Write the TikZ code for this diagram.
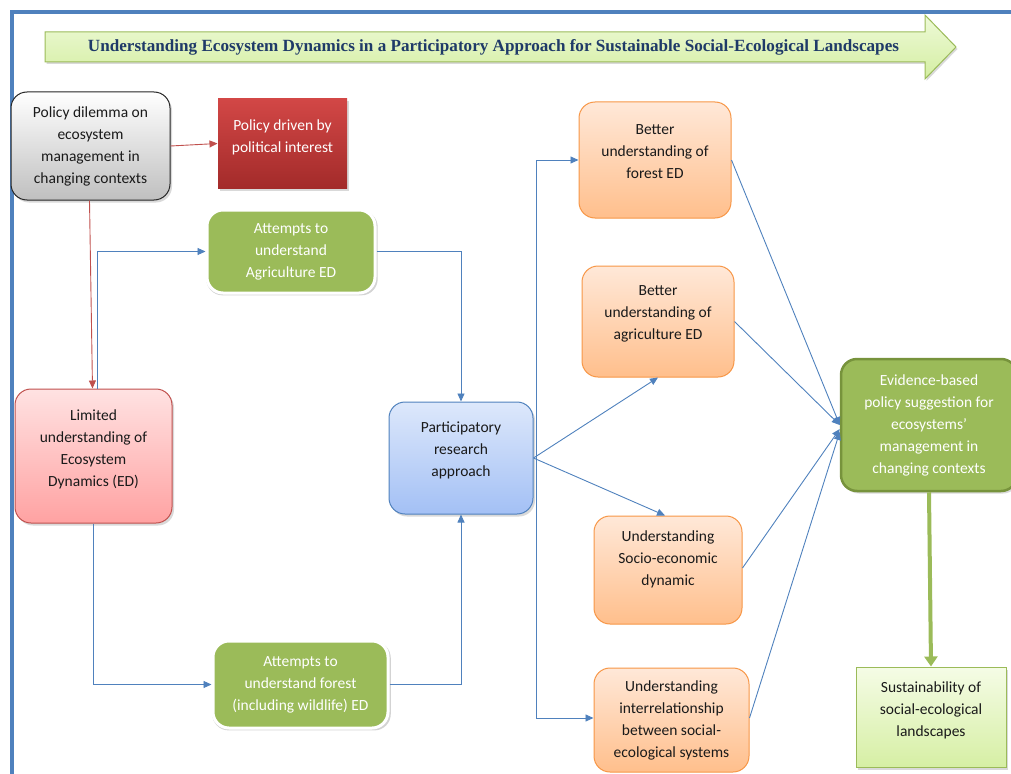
\documentclass[tikz,border=0pt]{standalone}
\usepackage{fontspec}
\setmainfont{Carlito}
\newfontfamily\titlefont{Liberation Serif}
\usetikzlibrary{arrows.meta,shadows}
\definecolor{bline}{HTML}{4F81BD}
\definecolor{rline}{HTML}{C0504D}
\definecolor{gfill}{HTML}{9BBB59}
\definecolor{gdark}{HTML}{77933C}
\definecolor{oline}{HTML}{F79646}
\definecolor{titleblue}{HTML}{1F3A68}
\definecolor{txt}{HTML}{1A1A1A}
\definecolor{redtop}{HTML}{D24746}
\definecolor{redbot}{HTML}{A32B2A}
\definecolor{pinktop}{HTML}{FFE2E2}
\definecolor{pinkbot}{HTML}{FFA2A2}
\definecolor{bluetop}{HTML}{DDE8FB}
\definecolor{bluebot}{HTML}{A3C0F5}
\definecolor{orgtop}{HTML}{FFE8D8}
\definecolor{orgbot}{HTML}{FFBF8C}
\definecolor{sustop}{HTML}{F5FCE6}
\definecolor{susbot}{HTML}{D6EFA4}
\definecolor{ttltop}{HTML}{EEFAD8}
\definecolor{ttlbot}{HTML}{D4EEA2}
\tikzset{
  box/.style={rounded corners=16pt, align=center, font=\fontsize{15.5}{22}\selectfont, text=txt, inner sep=2pt, line width=1pt},
  shad/.style={drop shadow={shadow xshift=2pt, shadow yshift=-2.5pt, opacity=0.3}},
  greybox/.style={box, draw=black!85, top color=white, bottom color=black!25, shad},
  redbox/.style={box, rounded corners=0pt, draw=none, top color=redtop, bottom color=redbot, text=white, shad},
  attbox/.style={box, draw=white, line width=3pt, fill=gfill, text=white, drop shadow={shadow xshift=1pt, shadow yshift=-1.5pt, opacity=0.35, shadow scale=1.02}},
  pinkbox/.style={box, draw=rline, top color=pinktop, bottom color=pinkbot, shad},
  bluebox/.style={box, draw=bline, top color=bluetop, bottom color=bluebot, shad},
  orangebox/.style={box, draw=oline, top color=orgtop, bottom color=orgbot},
  evbox/.style={box, draw=gdark, line width=2.5pt, fill=gfill, text=white, shad},
  susbox/.style={box, rounded corners=0pt, draw=gfill, top color=sustop, bottom color=susbot, shad},
  barrow/.style={draw=bline, line width=0.9pt, -{Triangle[length=8pt,width=7pt]}},
  rarrow/.style={draw=rline, line width=0.9pt, -{Triangle[length=8pt,width=7pt]}},
  garrow/.style={draw=gfill, line width=4pt, -{Triangle[length=10pt,width=13pt]}},
}
\begin{document}
\begin{tikzpicture}[x=1pt,y=-1pt]
\useasboundingbox (0,0) rectangle (1011,773);
% frame
\draw[bline, line width=4pt] (12,780) -- (12,12) -- (1020,12);
% title arrow
\path[draw=gfill, line width=1pt, top color=ttltop, bottom color=ttlbot,
  drop shadow={shadow xshift=1.5pt, shadow yshift=-2pt, opacity=0.3}]
  (45,32) -- (925,32) -- (925,15) -- (956,47) -- (925,79) -- (925,62) -- (45,62) -- cycle;
\node[font=\titlefont\bfseries\fontsize{17.1}{20}\selectfont, text=titleblue] (title) at (493.5,47)
  {Understanding Ecosystem Dynamics in a Participatory Approach for Sustainable Social-Ecological Landscapes};
% nodes
\node[greybox, minimum width=159pt, minimum height=108pt] (dilemma) at (90.5,146)
  {Policy dilemma on\\ecosystem\\management in\\changing contexts};
\node[redbox, minimum width=129pt, minimum height=89pt] (driven) at (282.5,143.5)
  {Policy driven by\\political interest\\[-7pt]};
\node[attbox, minimum width=168pt, minimum height=83pt] (agri) at (291,251.5)
  {Attempts to\\understand\\Agriculture ED};
\node[pinkbox, minimum width=157pt, minimum height=134pt] (limited) at (93.5,456)
  {Limited\\understanding of\\Ecosystem\\Dynamics (ED)\\[-6pt]};
\node[bluebox, minimum width=144pt, minimum height=112pt] (particip) at (461,458)
  {Participatory\\research\\approach\\[-4pt]};
\node[attbox, minimum width=175pt, minimum height=87pt] (forestA) at (300.5,684.5)
  {Attempts to\\understand forest\\(including wildlife) ED};
\node[orangebox, minimum width=152pt, minimum height=116pt] (bforest) at (655,160)
  {Better\\understanding of\\forest ED\\[-6pt]};
\node[orangebox, minimum width=152pt, minimum height=111pt] (bagri) at (658,321.5)
  {Better\\understanding of\\agriculture ED\\[-5pt]};
\node[orangebox, minimum width=148pt, minimum height=108pt] (socio) at (668,570)
  {Understanding\\Socio-economic\\dynamic\\[1pt]};
\node[orangebox, minimum width=155pt, minimum height=104pt] (interrel) at (671.5,720)
  {Understanding\\interrelationship\\between social-\\ecological systems};
\node[evbox, minimum width=176pt, minimum height=132pt] (evidence) at (929,425)
  {Evidence-based\\policy suggestion for\\ecosystems’\\management in\\changing contexts};
\node[susbox, minimum width=150pt, minimum height=100pt] (sustain) at (931,717)
  {Sustainability of\\social-ecological\\landscapes\\[-6pt]};
% connectors
\draw[rarrow] (dilemma.east) -- (driven.west);
\draw[rarrow] ([xshift=-1pt]dilemma.south) -- ([xshift=-1pt]limited.north);
\draw[barrow] ([xshift=3.5pt]limited.north) |- (agri.west);
\draw[barrow] (agri.east) -| (particip.north);
\draw[barrow] (limited.south) |- (forestA.west);
\draw[barrow] (forestA.east) -| (particip.south);
\draw[barrow] (particip.east) -- (bagri.south);
\draw[barrow] (particip.east) -- ([xshift=-3pt]socio.north);
\coordinate (bus) at ([xshift=3pt]particip.east);
\draw[barrow] (bus) |- (bforest.west);
\draw[barrow] (bus) |- ([yshift=2pt]interrel.west);
\draw[barrow] (bforest.east) -- (evidence.west);
\draw[barrow] (bagri.east) -- (evidence.west);
\draw[barrow] ([yshift=2pt]socio.east) -- ([yshift=-4pt]evidence.west);
\draw[barrow] ([yshift=2pt]interrel.east) -- ([yshift=-7pt]evidence.west);
\draw[garrow] (evidence.south) -- (sustain.north);
\end{tikzpicture}
\end{document}
